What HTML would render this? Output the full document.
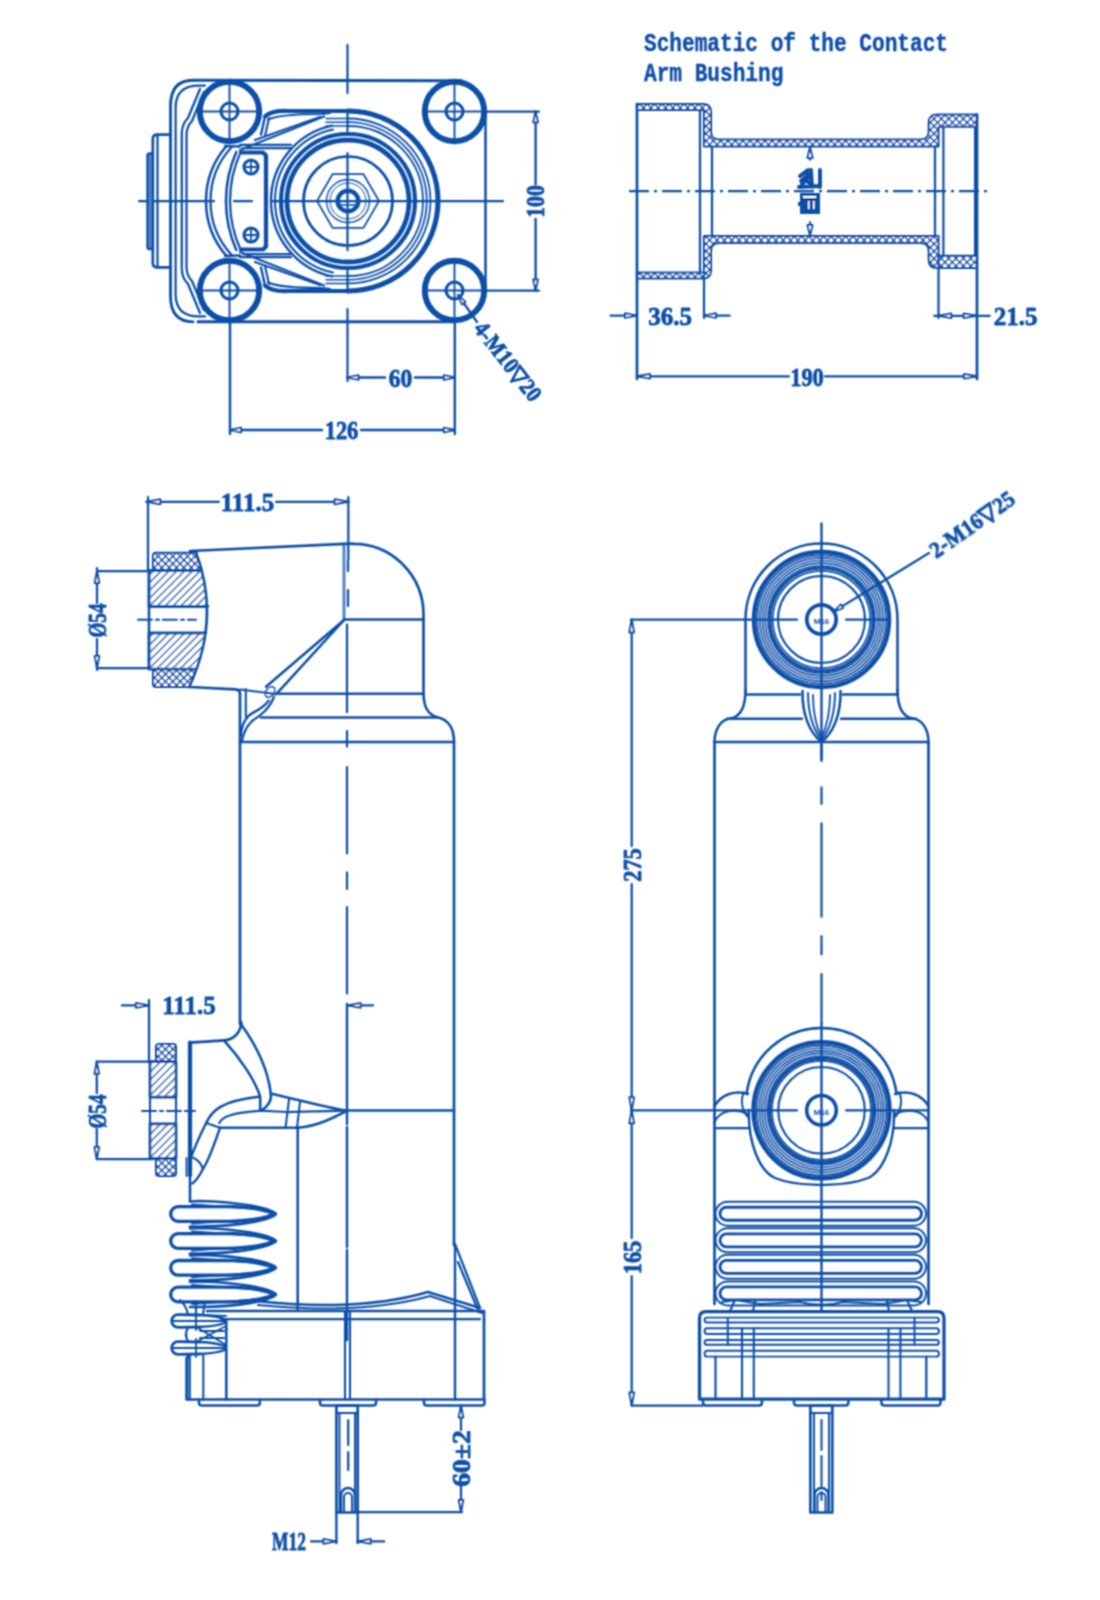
<!DOCTYPE html>
<html><head><meta charset="utf-8"><style>
html,body{margin:0;padding:0;background:#fff;}
svg{display:block;}
</style></head><body>
<svg width="1100" height="1600" viewBox="0 0 1100 1600">
<defs>
<pattern id="dots" width="5.2" height="5.2" patternUnits="userSpaceOnUse" patternTransform="rotate(45)"><rect width="5.2" height="5.2" fill="#fff"/><path d="M0 0 H5.2 M0 0 V5.2" stroke="#0f50a8" stroke-width="3.1"/></pattern>
<pattern id="hatch" width="5.5" height="5.5" patternUnits="userSpaceOnUse" patternTransform="rotate(45)"><rect width="5.5" height="5.5" fill="#fff"/><line x1="0" y1="0" x2="0" y2="5.5" stroke="#0f50a8" stroke-width="2.7"/></pattern>
<filter id="soft" x="-5%" y="-5%" width="110%" height="110%"><feConvolveMatrix order="3" kernelMatrix="1 2 1 2 4 2 1 2 1" divisor="16" edgeMode="none"/></filter>
</defs>
<g filter="url(#soft)" fill="none" stroke="#0f50a8" stroke-linecap="round" stroke-linejoin="round">
<line x1="347.5" y1="45" x2="347.5" y2="93" stroke-width="2.25" />
<line x1="347.5" y1="110" x2="347.5" y2="131" stroke-width="2.25" />
<line x1="347.5" y1="153" x2="347.5" y2="250" stroke-width="2.25" />
<line x1="347.5" y1="271" x2="347.5" y2="292" stroke-width="2.25" />
<line x1="347.5" y1="309" x2="347.5" y2="381" stroke-width="2.25" />
<line x1="139" y1="201" x2="214" y2="201" stroke-width="2.25" />
<line x1="234" y1="201" x2="252" y2="201" stroke-width="2.25" />
<line x1="273" y1="201" x2="503" y2="201" stroke-width="2.25" />
<circle cx="229.5" cy="111.5" r="29.7" stroke-width="6.0" />
<circle cx="229.5" cy="111.5" r="8.5" stroke-width="3.15" />
<line x1="202.5" y1="111.5" x2="221.0" y2="111.5" stroke-width="1.95" />
<line x1="238.0" y1="111.5" x2="256.5" y2="111.5" stroke-width="1.95" />
<line x1="229.5" y1="84.5" x2="229.5" y2="103.0" stroke-width="1.95" />
<line x1="229.5" y1="120.0" x2="229.5" y2="138.5" stroke-width="1.95" />
<line x1="221.0" y1="111.5" x2="238.0" y2="111.5" stroke-width="1.8" />
<line x1="229.5" y1="103.0" x2="229.5" y2="120.0" stroke-width="1.8" />
<circle cx="229.5" cy="290.5" r="29.7" stroke-width="6.0" />
<circle cx="229.5" cy="290.5" r="8.5" stroke-width="3.15" />
<line x1="202.5" y1="290.5" x2="221.0" y2="290.5" stroke-width="1.95" />
<line x1="238.0" y1="290.5" x2="256.5" y2="290.5" stroke-width="1.95" />
<line x1="229.5" y1="263.5" x2="229.5" y2="282.0" stroke-width="1.95" />
<line x1="229.5" y1="299.0" x2="229.5" y2="317.5" stroke-width="1.95" />
<line x1="221.0" y1="290.5" x2="238.0" y2="290.5" stroke-width="1.8" />
<line x1="229.5" y1="282.0" x2="229.5" y2="299.0" stroke-width="1.8" />
<circle cx="454.5" cy="111.5" r="29.7" stroke-width="6.0" />
<circle cx="454.5" cy="111.5" r="8.5" stroke-width="3.15" />
<line x1="427.5" y1="111.5" x2="446.0" y2="111.5" stroke-width="1.95" />
<line x1="463.0" y1="111.5" x2="481.5" y2="111.5" stroke-width="1.95" />
<line x1="454.5" y1="84.5" x2="454.5" y2="103.0" stroke-width="1.95" />
<line x1="454.5" y1="120.0" x2="454.5" y2="138.5" stroke-width="1.95" />
<line x1="446.0" y1="111.5" x2="463.0" y2="111.5" stroke-width="1.8" />
<line x1="454.5" y1="103.0" x2="454.5" y2="120.0" stroke-width="1.8" />
<circle cx="454.5" cy="290.5" r="29.7" stroke-width="6.0" />
<circle cx="454.5" cy="290.5" r="8.5" stroke-width="3.15" />
<line x1="427.5" y1="290.5" x2="446.0" y2="290.5" stroke-width="1.95" />
<line x1="463.0" y1="290.5" x2="481.5" y2="290.5" stroke-width="1.95" />
<line x1="454.5" y1="263.5" x2="454.5" y2="282.0" stroke-width="1.95" />
<line x1="454.5" y1="299.0" x2="454.5" y2="317.5" stroke-width="1.95" />
<line x1="446.0" y1="290.5" x2="463.0" y2="290.5" stroke-width="1.8" />
<line x1="454.5" y1="282.0" x2="454.5" y2="299.0" stroke-width="1.8" />
<line x1="193" y1="80.2" x2="461" y2="80.8" stroke-width="3.0" />
<line x1="198" y1="321.8" x2="455" y2="321.8" stroke-width="3.0" />
<line x1="485.5" y1="111.5" x2="485.5" y2="290.5" stroke-width="2.55" />
<path d="M170.5 201 L170.5 106 Q170.5 80.2 193 80.2" stroke-width="2.85" />
<path d="M175.6 201 L175.6 108 Q175.6 85.6 198.5 85.6 L205 85.6" stroke-width="2.25" />
<path d="M181.8 201 L181.8 133 Q182 124 188 118 L200 89" stroke-width="2.25" />
<path d="M186.5 201 L186.5 134 Q187 126 192 121 L204 92" stroke-width="2.25" />
<path d="M170.2 134.7 L157 134.7 Q152.8 134.7 152.8 139 L152.8 201" stroke-width="2.7" />
<line x1="157.5" y1="134.7" x2="157.5" y2="201" stroke-width="2.25" />
<path d="M206 201 A84 84 0 0 1 226.5 146" stroke-width="2.55" />
<path d="M210.5 201 A79.5 79.5 0 0 1 231.7 147" stroke-width="2.25" />
<path d="M225 146 L240 146.5" stroke-width="2.4" />
<path d="M226 201 A122 122 0 0 1 236.3 152" stroke-width="2.55" />
<path d="M230 201 A118 118 0 0 1 240.7 152" stroke-width="2.25" />
<line x1="240" y1="144.8" x2="291" y2="144.8" stroke-width="2.25" />
<line x1="243" y1="148" x2="291" y2="148" stroke-width="2.25" />
<path d="M241 152.5 L263 152.5 L266 155.5 L266 201" stroke-width="4.2" />
<circle cx="251" cy="167" r="7" stroke-width="3.15" />
<line x1="246" y1="167" x2="256" y2="167" stroke-width="1.8" />
<line x1="251" y1="162" x2="251" y2="172" stroke-width="1.8" />
<path d="M265 116.4 Q272 110.5 287 111 L348 111" stroke-width="4.2" />
<path d="M268 119.5 Q280 114 322 114 L330 113" stroke-width="2.1" />
<path d="M265 116.4 L261 134.5" stroke-width="2.4" />
<path d="M269 118 L265 136" stroke-width="2.1" />
<line x1="240" y1="150" x2="324" y2="116.5" stroke-width="2.25" />
<line x1="255" y1="140" x2="320" y2="117" stroke-width="2.25" />
<line x1="326" y1="118.5" x2="348" y2="118.5" stroke-width="1.5" />
<line x1="326" y1="122.2" x2="348" y2="122.2" stroke-width="1.5" />
<line x1="326" y1="126" x2="348" y2="126" stroke-width="1.5" />
<path d="M271 201 A77 77 0 0 1 332 125.6" stroke-width="2.4" />
<path d="M275 201 A73 73 0 0 1 333 129.5" stroke-width="2.1" />
<path d="M170.5 201 L170.5 296 Q170.5 321.8 193 321.8" stroke-width="2.85" />
<path d="M175.6 201 L175.6 294 Q175.6 316.4 198.5 316.4 L205 316.4" stroke-width="2.25" />
<path d="M181.8 201 L181.8 269 Q182 278 188 284 L200 313" stroke-width="2.25" />
<path d="M186.5 201 L186.5 268 Q187 276 192 281 L204 310" stroke-width="2.25" />
<path d="M170.2 267.3 L157 267.3 Q152.8 267.3 152.8 263 L152.8 201" stroke-width="2.7" />
<line x1="157.5" y1="267.3" x2="157.5" y2="201" stroke-width="2.25" />
<path d="M206 201 A84 84 0 0 0 226.5 256" stroke-width="2.55" />
<path d="M210.5 201 A79.5 79.5 0 0 0 231.7 255" stroke-width="2.25" />
<path d="M225 256 L240 255.5" stroke-width="2.4" />
<path d="M226 201 A122 122 0 0 0 236.3 250" stroke-width="2.55" />
<path d="M230 201 A118 118 0 0 0 240.7 250" stroke-width="2.25" />
<line x1="240" y1="257.2" x2="291" y2="257.2" stroke-width="2.25" />
<line x1="243" y1="254" x2="291" y2="254" stroke-width="2.25" />
<path d="M241 249.5 L263 249.5 L266 246.5 L266 201" stroke-width="4.2" />
<circle cx="251" cy="235" r="7" stroke-width="3.15" />
<line x1="246" y1="235" x2="256" y2="235" stroke-width="1.8" />
<line x1="251" y1="240" x2="251" y2="230" stroke-width="1.8" />
<path d="M265 285.6 Q272 291.5 287 291 L348 291" stroke-width="4.2" />
<path d="M268 282.5 Q280 288 322 288 L330 289" stroke-width="2.1" />
<path d="M265 285.6 L261 267.5" stroke-width="2.4" />
<path d="M269 284 L265 266" stroke-width="2.1" />
<line x1="240" y1="252" x2="324" y2="285.5" stroke-width="2.25" />
<line x1="255" y1="262" x2="320" y2="285" stroke-width="2.25" />
<line x1="326" y1="283.5" x2="348" y2="283.5" stroke-width="1.5" />
<line x1="326" y1="279.8" x2="348" y2="279.8" stroke-width="1.5" />
<line x1="326" y1="276" x2="348" y2="276" stroke-width="1.5" />
<path d="M271 201 A77 77 0 0 0 332 276.4" stroke-width="2.4" />
<path d="M275 201 A73 73 0 0 0 333 272.5" stroke-width="2.1" />
<rect x="147.5" y="153.5" width="5.3" height="95.5" stroke-width="2.4" fill="#4f82c4" rx="2"/>
<path d="M348 111 A90 90 0 0 1 348 291" stroke-width="5.1" />
<path d="M348 126 A75 75 0 0 1 348 276" stroke-width="1.8" />
<path d="M348 122.2 A78.8 78.8 0 0 1 348 279.8" stroke-width="1.8" />
<path d="M348 118.5 A82.5 82.5 0 0 1 348 283.5" stroke-width="1.8" />
<circle cx="348" cy="201" r="67" stroke-width="4.2" />
<circle cx="348" cy="201" r="61" stroke-width="4.8" />
<circle cx="348" cy="201" r="44.5" stroke-width="2.7" />
<polygon points="379.0,201.0 363.5,227.8 332.5,227.8 317.0,201.0 332.5,174.2 363.5,174.2" stroke-width="1.7"/>
<circle cx="348" cy="201" r="21.5" stroke-width="1.35" />
<circle cx="348" cy="201" r="18" stroke-width="0.98" />
<circle cx="348" cy="201" r="10.3" stroke-width="4.5" />
<line x1="340" y1="205" x2="356" y2="205" stroke-width="1.65" />
<line x1="486" y1="111.5" x2="539" y2="111.5" stroke-width="2.25" />
<line x1="486" y1="290.5" x2="539" y2="290.5" stroke-width="2.25" />
<line x1="535.6" y1="111.5" x2="535.6" y2="184" stroke-width="2.4" />
<line x1="535.6" y1="219" x2="535.6" y2="290.5" stroke-width="2.4" />
<path d="M535.6 111.5 L538.0 122.5 L533.2 122.5 Z" stroke-width="1.95" fill="#fff"/>
<path d="M535.6 290.5 L533.2 279.5 L538.0 279.5 Z" stroke-width="1.95" fill="#fff"/>
<text transform="translate(543.5 201.5) rotate(-90) scale(0.87 1)" font-family="Liberation Serif" font-weight="bold" font-size="25" text-anchor="middle" fill="#0f50a8" stroke="#0f50a8" stroke-width="0.8" >100</text>
<line x1="230" y1="322" x2="230" y2="434" stroke-width="2.4" />
<line x1="454.8" y1="322" x2="454.8" y2="434" stroke-width="2.4" />
<line x1="347.5" y1="377.5" x2="385" y2="377.5" stroke-width="2.4" />
<line x1="415" y1="377.5" x2="454.8" y2="377.5" stroke-width="2.4" />
<path d="M347.5 377.5 L358.5 375.1 L358.5 379.9 Z" stroke-width="1.95" fill="#fff"/>
<path d="M454.8 377.5 L443.8 379.9 L443.8 375.1 Z" stroke-width="1.95" fill="#fff"/>
<text transform="translate(400.5 386.5) scale(0.94 1)" font-family="Liberation Serif" font-weight="bold" font-size="25" text-anchor="middle" fill="#0f50a8" stroke="#0f50a8" stroke-width="0.8" >60</text>
<line x1="230" y1="430" x2="322" y2="430" stroke-width="2.4" />
<line x1="361" y1="430" x2="454.8" y2="430" stroke-width="2.4" />
<path d="M230.0 430.0 L241.0 427.6 L241.0 432.4 Z" stroke-width="1.95" fill="#fff"/>
<path d="M454.8 430.0 L443.8 432.4 L443.8 427.6 Z" stroke-width="1.95" fill="#fff"/>
<text transform="translate(341.5 439) scale(0.9 1)" font-family="Liberation Serif" font-weight="bold" font-size="25" text-anchor="middle" fill="#0f50a8" stroke="#0f50a8" stroke-width="0.8" >126</text>
<line x1="458" y1="295" x2="477" y2="322" stroke-width="2.25" />
<path d="M458.0 295.0 L465.5 301.9 L461.9 304.5 Z" stroke-width="1.95" fill="#fff"/>
<text transform="translate(473 329) rotate(52) scale(0.9 1)" font-family="Liberation Serif" font-weight="bold" font-size="23" text-anchor="start" fill="#0f50a8" stroke="#0f50a8" stroke-width="0.8" >4-M10&#9661;20</text>
<text transform="translate(644 50.5) scale(0.845 1)" font-family="Liberation Mono" font-weight="bold" font-size="25" text-anchor="start" fill="#0f50a8" stroke="#0f50a8" stroke-width="0.4" >Schematic of the Contact</text>
<text transform="translate(644 80.5) scale(0.845 1)" font-family="Liberation Mono" font-weight="bold" font-size="25" text-anchor="start" fill="#0f50a8" stroke="#0f50a8" stroke-width="0.4" >Arm Bushing</text>
<path d="M637 104 L703 104 Q711 104 711 112 L711 131.5 Q711 139.5 719 139.5 L920.7 139.5 Q928.7 139.5 928.7 131.5 L928.7 123 Q928.7 114.5 937 114.5 L977 114.5 L977 126.8 L938.5 126.8 L938.5 146.5 L704 146.5 L704 110 L637 110 Z" stroke-width="2.1" fill="url(#dots)"/>
<path d="M637 278.5 L703 278.5 Q711 278.5 711 270.5 L711 251.0 Q711 243.0 719 243.0 L920.7 243.0 Q928.7 243.0 928.7 251.0 L928.7 259.5 Q928.7 268.0 937 268.0 L977 268.0 L977 255.7 L938.5 255.7 L938.5 236.0 L704 236.0 L704 272.5 L637 272.5 Z" stroke-width="2.1" fill="url(#dots)"/>
<line x1="637" y1="104" x2="637" y2="379" stroke-width="2.7" />
<line x1="700" y1="110" x2="700" y2="272.5" stroke-width="2.25" />
<line x1="712" y1="146.5" x2="712" y2="236" stroke-width="2.25" />
<line x1="935" y1="146.5" x2="935" y2="236" stroke-width="2.25" />
<line x1="943.4" y1="126.8" x2="943.4" y2="255.7" stroke-width="2.25" />
<line x1="975" y1="126.8" x2="975" y2="255.7" stroke-width="2.1" />
<line x1="977" y1="114.5" x2="977" y2="379" stroke-width="2.7" />
<line x1="704" y1="272.5" x2="704" y2="318" stroke-width="2.25" />
<line x1="938.5" y1="255.7" x2="938.5" y2="318" stroke-width="2.25" />
<line x1="629" y1="191.2" x2="991" y2="191.2" stroke-width="2.25" stroke-dasharray="20 5 3 5" stroke-linecap="butt"/>
<line x1="810" y1="146.5" x2="810" y2="160" stroke-width="1.8" />
<line x1="810" y1="222" x2="810" y2="236" stroke-width="1.8" />
<path d="M810.0 147.0 L812.6 158.0 L807.4 158.0 Z" stroke-width="1.95" fill="#fff"/>
<path d="M810.0 236.0 L807.4 225.0 L812.6 225.0 Z" stroke-width="1.95" fill="#fff"/>
<g fill="#0f50a8" stroke="none"><rect x="800" y="193" width="20" height="21"/><rect x="798" y="202" width="3" height="4"/></g><g fill="#fff" stroke="none"><rect x="803" y="196" width="13" height="2"/><rect x="808" y="201" width="1.6" height="8"/><rect x="813" y="201" width="1.6" height="8"/></g>
<path d="M799 187 L820 186 M820 170 L820 187 M811 170 L812 187 M800 176 L808 170 M802 184 L808 178 M801 181 L809 174 M808 182 L812 184" stroke-width="3.9" />
<line x1="610.5" y1="315.6" x2="637" y2="315.6" stroke-width="2.25" />
<path d="M637.0 315.6 L625.0 317.9 L625.0 313.3 Z" stroke-width="1.95" fill="#fff"/>
<line x1="704" y1="315.6" x2="729.7" y2="315.6" stroke-width="2.25" />
<path d="M704.0 315.6 L716.0 313.3 L716.0 317.9 Z" stroke-width="1.95" fill="#fff"/>
<text transform="translate(670 324.5) scale(1.0 1)" font-family="Liberation Serif" font-weight="bold" font-size="25" text-anchor="middle" fill="#0f50a8" stroke="#0f50a8" stroke-width="0.8" >36.5</text>
<line x1="934.2" y1="315.8" x2="989.7" y2="315.8" stroke-width="2.25" />
<path d="M938.3 315.8 L951.3 313.5 L951.3 318.1 Z" stroke-width="1.95" fill="#fff"/>
<path d="M976.7 315.8 L963.7 318.1 L963.7 313.5 Z" stroke-width="1.95" fill="#fff"/>
<text transform="translate(1015.5 324.8) scale(1.0 1)" font-family="Liberation Serif" font-weight="bold" font-size="25" text-anchor="middle" fill="#0f50a8" stroke="#0f50a8" stroke-width="0.8" >21.5</text>
<line x1="637" y1="376.3" x2="789" y2="376.3" stroke-width="2.25" />
<line x1="825" y1="376.3" x2="977" y2="376.3" stroke-width="2.25" />
<path d="M637.0 376.3 L650.0 374.0 L650.0 378.6 Z" stroke-width="1.95" fill="#fff"/>
<path d="M977.0 376.3 L964.0 378.6 L964.0 374.0 Z" stroke-width="1.95" fill="#fff"/>
<text transform="translate(807 385.5) scale(0.9 1)" font-family="Liberation Serif" font-weight="bold" font-size="25" text-anchor="middle" fill="#0f50a8" stroke="#0f50a8" stroke-width="0.8" >190</text>
<line x1="146.4" y1="501.8" x2="219" y2="501.8" stroke-width="2.25" />
<line x1="276" y1="501.8" x2="348.6" y2="501.8" stroke-width="2.25" />
<path d="M146.4 501.8 L160.4 499.3 L160.4 504.3 Z" stroke-width="1.95" fill="#fff"/>
<path d="M348.6 501.8 L334.6 504.3 L334.6 499.3 Z" stroke-width="1.95" fill="#fff"/>
<text transform="translate(247.5 510.5) scale(1.0 1)" font-family="Liberation Serif" font-weight="bold" font-size="25" text-anchor="middle" fill="#0f50a8" stroke="#0f50a8" stroke-width="0.8" >111.5</text>
<line x1="148" y1="497" x2="148" y2="571" stroke-width="2.25" />
<line x1="348.3" y1="497" x2="348.3" y2="559.6" stroke-width="2.25" />
<line x1="348" y1="561" x2="348" y2="571" stroke-width="2.25" />
<line x1="348" y1="590" x2="348" y2="606" stroke-width="2.25" />
<line x1="347" y1="624.5" x2="347" y2="712" stroke-width="2.25" />
<line x1="347" y1="731" x2="347" y2="746.5" stroke-width="2.25" />
<line x1="347" y1="767" x2="347" y2="853.4" stroke-width="2.25" />
<line x1="347" y1="872.5" x2="347" y2="889" stroke-width="2.25" />
<line x1="347" y1="907" x2="347" y2="993.4" stroke-width="2.25" />
<path d="M190 551 L344.6 543.8 Q352 543.6 354 543.8 A70 71 0 0 1 423.5 614.7 L423.5 693 C423.5 709 429 716 440 718 C450 721 454 731 454 742 L454 1245" stroke-width="2.7" />
<line x1="344" y1="543.8" x2="344" y2="619.3" stroke-width="3.0" stroke-opacity="0.7"/>
<line x1="344" y1="619.5" x2="423.5" y2="619.5" stroke-width="2.55" />
<path d="M344 620 L266 686.7" stroke-width="2.55" />
<path d="M344 620 L276 694.4" stroke-width="2.55" />
<ellipse cx="270" cy="692" rx="4" ry="6" transform="rotate(40 270 692)" stroke-width="1.4"/>
<path d="M268.7 700.7 C262 710 252 712 248.4 716 C243 722 241 730 240.7 736" stroke-width="2.4" />
<path d="M274 697 C268 712 257 717 252 721 C246 727 243 735 242 741" stroke-width="2.25" />
<line x1="279" y1="693.8" x2="423.5" y2="693.8" stroke-width="2.55" />
<line x1="261" y1="717.5" x2="438" y2="717.5" stroke-width="2.55" />
<line x1="240" y1="742" x2="454" y2="742" stroke-width="2.7" />
<path d="M190 687 L235.6 689.3 Q240 689.5 240 694 L240 1024" stroke-width="2.7" />
<line x1="245.8" y1="689" x2="245.8" y2="717" stroke-width="2.1" />
<line x1="240" y1="689.5" x2="276" y2="694" stroke-width="2.1" />
<clipPath id="fclip"><path d="M140 548 L196 548 Q221 619 189 690 L140 690 Z"/></clipPath>
<g clip-path="url(#fclip)">
<rect x="153" y="552.7" width="60" height="18" stroke-width="2.1" fill="url(#dots)" rx="3"/>
<rect x="153" y="669" width="60" height="18" stroke-width="2.1" fill="url(#dots)" rx="3"/>
<rect x="149" y="570.7" width="70" height="35.6" stroke-width="2.7" fill="url(#hatch)"/>
<rect x="149" y="633" width="70" height="36" stroke-width="2.7" fill="url(#hatch)"/>
</g>
<path d="M196 552.7 Q221 619 189 687" stroke-width="2.7" />
<line x1="149" y1="606.3" x2="208" y2="606.3" stroke-width="2.4" />
<line x1="149" y1="633" x2="206" y2="633" stroke-width="2.4" />
<line x1="149" y1="570.7" x2="149" y2="669" stroke-width="2.55" />
<line x1="149" y1="570.7" x2="198" y2="570.7" stroke-width="2.25" />
<line x1="149" y1="669" x2="194" y2="669" stroke-width="2.25" />
<line x1="138" y1="619.8" x2="196" y2="619.8" stroke-width="2.1" stroke-dasharray="14 4 3 4"/>
<line x1="97" y1="568" x2="97" y2="603" stroke-width="2.25" />
<line x1="97" y1="639" x2="97" y2="670" stroke-width="2.25" />
<line x1="97" y1="571" x2="149" y2="571" stroke-width="2.25" />
<line x1="97" y1="668" x2="149" y2="668" stroke-width="2.25" />
<path d="M97.0 571.0 L99.3 583.0 L94.7 583.0 Z" stroke-width="1.95" fill="#fff"/>
<path d="M97.0 668.0 L94.7 656.0 L99.3 656.0 Z" stroke-width="1.95" fill="#fff"/>
<text transform="translate(105.5 620.5) rotate(-90) scale(0.77 1)" font-family="Liberation Serif" font-weight="bold" font-size="25" text-anchor="middle" fill="#0f50a8" stroke="#0f50a8" stroke-width="0.8" >&#216;54</text>
<line x1="122" y1="1005.4" x2="149" y2="1005.4" stroke-width="2.25" />
<path d="M149.0 1005.4 L136.0 1007.8 L136.0 1003.0 Z" stroke-width="1.95" fill="#fff"/>
<text transform="translate(189 1014) scale(1.0 1)" font-family="Liberation Serif" font-weight="bold" font-size="25" text-anchor="middle" fill="#0f50a8" stroke="#0f50a8" stroke-width="0.8" >111.5</text>
<line x1="347.6" y1="1005.4" x2="373" y2="1005.4" stroke-width="2.25" />
<path d="M347.6 1005.4 L360.6 1003.0 L360.6 1007.8 Z" stroke-width="1.95" fill="#fff"/>
<line x1="149" y1="1000" x2="149" y2="1062" stroke-width="2.25" />
<line x1="347" y1="1004" x2="347" y2="1340" stroke-width="2.4" stroke-dasharray="120 3"/>
<path d="M241.4 1022 C241 1032 234 1040 224 1040.3 L190 1042.7" stroke-width="2.7" />
<line x1="190" y1="1042.7" x2="190" y2="1175.3" stroke-width="4.2" />
<line x1="186.5" y1="1158" x2="186.5" y2="1176" stroke-width="1.8" />
<rect x="156" y="1044" width="20" height="17.7" stroke-width="2.1" fill="url(#dots)" rx="3"/>
<rect x="156" y="1158.3" width="20.0" height="17.7" stroke-width="2.1" fill="url(#dots)" rx="3"/>
<rect x="150" y="1061.7" width="26" height="35.45000000000009" stroke-width="2.7" fill="url(#hatch)"/>
<rect x="150" y="1123.85" width="26" height="34.450000000000045" stroke-width="2.7" fill="url(#hatch)"/>
<line x1="176" y1="1097.15" x2="176" y2="1123.85" stroke-width="2.1" />
<line x1="150" y1="1097.15" x2="150" y2="1123.85" stroke-width="2.1" />
<line x1="142" y1="1111" x2="195" y2="1111" stroke-width="2.1" stroke-dasharray="14 4 3 4"/>
<line x1="96.8" y1="1061.7" x2="96.8" y2="1093" stroke-width="2.25" />
<line x1="96.8" y1="1129" x2="96.8" y2="1159" stroke-width="2.25" />
<line x1="96.8" y1="1061.7" x2="153" y2="1061.7" stroke-width="2.25" />
<line x1="96.8" y1="1159" x2="153" y2="1159" stroke-width="2.25" />
<path d="M96.8 1061.7 L99.1 1073.7 L94.5 1073.7 Z" stroke-width="1.95" fill="#fff"/>
<path d="M96.8 1159.0 L94.5 1147.0 L99.1 1147.0 Z" stroke-width="1.95" fill="#fff"/>
<text transform="translate(105.5 1111.5) rotate(-90) scale(0.77 1)" font-family="Liberation Serif" font-weight="bold" font-size="25" text-anchor="middle" fill="#0f50a8" stroke="#0f50a8" stroke-width="0.8" >&#216;54</text>
<path d="M241.4 1024.7 C256 1045 268 1070 270.8 1093.5 C272 1100 268 1107 261 1110.7" stroke-width="2.55" />
<path d="M224 1040.3 C240 1058 255 1080 260.2 1096.7 L260.2 1110.7" stroke-width="2.55" />
<path d="M206.2 1123 C212 1110 222 1101 258.6 1096.7" stroke-width="2.55" />
<path d="M270.8 1093.5 L294.6 1099.2 C315 1104 330 1108 347 1110.7" stroke-width="2.55" />
<path d="M219.3 1123 C222 1117 230 1113 261 1110.7 L286.4 1112 C310 1112 330 1111 347 1110.7" stroke-width="2.25" />
<path d="M220 1127.8 L297.8 1127.8 C318 1126 333 1118 347 1110.7" stroke-width="2.55" />
<path d="M289 1099.5 L285.5 1127.8 M300 1102 L297 1127.8" stroke-width="2.1" />
<path d="M206.2 1123 L220 1127.8" stroke-width="2.1" />
<path d="M206.2 1123 C200 1135 195 1147 191.5 1155.7" stroke-width="2.4" />
<path d="M220 1127.8 C214 1145 209 1160 203 1168.8 C200 1175 196 1181 192.3 1183.5" stroke-width="2.4" />
<path d="M191.5 1157 C197 1159 201 1163 203 1168.8" stroke-width="2.1" />
<line x1="297.7" y1="1127" x2="297.7" y2="1309.5" stroke-width="2.55" />
<line x1="347" y1="1110.5" x2="454" y2="1110.5" stroke-width="2.55" />
<line x1="190" y1="1177" x2="190" y2="1201" stroke-width="2.55" />
<path d="M190 1201.5 L200 1201 C240 1202 270 1208 276 1214 C270 1220 240 1226 200 1226.5 L190 1226.5" stroke-width="2.7" />
<path d="M178 1206.7 L235 1206.7 C255 1208 268 1211 274 1214 C268 1217 255 1220 235 1221.3 L178 1221.3 A7.3 7.3 0 0 1 178 1206.7 Z" stroke-width="3.3" />
<line x1="192" y1="1204.5" x2="265" y2="1209.5" stroke-width="1.95" />
<line x1="192" y1="1223.5" x2="265" y2="1218.5" stroke-width="1.95" />
<path d="M190 1228.5 L200 1228 C240 1229 270 1235 276 1241 C270 1247 240 1253 200 1253.5 L190 1253.5" stroke-width="2.7" />
<path d="M178 1233.7 L235 1233.7 C255 1235 268 1238 274 1241 C268 1244 255 1247 235 1248.3 L178 1248.3 A7.3 7.3 0 0 1 178 1233.7 Z" stroke-width="3.3" />
<line x1="192" y1="1231.5" x2="265" y2="1236.5" stroke-width="1.95" />
<line x1="192" y1="1250.5" x2="265" y2="1245.5" stroke-width="1.95" />
<path d="M190 1255.3 L200 1254.8 C240 1255.8 270 1261.8 276 1267.8 C270 1273.8 240 1279.8 200 1280.3 L190 1280.3" stroke-width="2.7" />
<path d="M178 1260.5 L235 1260.5 C255 1261.8 268 1264.8 274 1267.8 C268 1270.8 255 1273.8 235 1275.1 L178 1275.1 A7.3 7.3 0 0 1 178 1260.5 Z" stroke-width="3.3" />
<line x1="192" y1="1258.3" x2="265" y2="1263.3" stroke-width="1.95" />
<line x1="192" y1="1277.3" x2="265" y2="1272.3" stroke-width="1.95" />
<path d="M190 1282.0 L200 1281.5 C240 1282.5 270 1288.5 276 1294.5 C270 1300.5 240 1306.5 200 1307.0 L190 1307.0" stroke-width="2.7" />
<path d="M178 1287.2 L235 1287.2 C255 1288.5 268 1291.5 274 1294.5 C268 1297.5 255 1300.5 235 1301.8 L178 1301.8 A7.3 7.3 0 0 1 178 1287.2 Z" stroke-width="3.3" />
<line x1="192" y1="1285.0" x2="265" y2="1290.0" stroke-width="1.95" />
<line x1="192" y1="1304.0" x2="265" y2="1299.0" stroke-width="1.95" />
<path d="M200 1315 L178 1314.7 A6.3 6.3 0 0 0 178 1327.3 L200 1327" stroke-width="2.85" />
<path d="M200 1315 C210 1315.5 220 1317 226 1319.5 M200 1327 C210 1326.5 220 1325 226 1322.5" stroke-width="2.4" />
<line x1="172" y1="1321" x2="226" y2="1321" stroke-width="1.95" />
<line x1="196" y1="1312" x2="196" y2="1330" stroke-width="1.8" />
<path d="M200 1342 L178 1341.7 A6.3 6.3 0 0 0 178 1354.3 L200 1354" stroke-width="2.85" />
<path d="M200 1342 C210 1342.5 220 1344 226 1346.5 M200 1354 C210 1353.5 220 1352 226 1349.5" stroke-width="2.4" />
<line x1="172" y1="1348" x2="226" y2="1348" stroke-width="1.95" />
<line x1="196" y1="1339" x2="196" y2="1357" stroke-width="1.8" />
<path d="M188 1327.5 Q184 1334.5 188 1341.5 M188 1354.5 L188 1358" stroke-width="2.25" />
<path d="M198 1328 L226 1345 M198 1341 L226 1326 M200 1331 L224 1331 M200 1338 L224 1338" stroke-width="1.95" />
<path d="M180 1300 Q186 1305 188 1314.5 M196 1301 L196 1314 M205 1302 L203 1314 M188 1314.5 L226 1316" stroke-width="2.1" />
<path d="M207 1311 L484 1311 L484 1399.5 L186.6 1399.5 L186.6 1358" stroke-width="2.7" />
<line x1="221" y1="1319" x2="480" y2="1319" stroke-width="2.25" />
<line x1="203.3" y1="1354" x2="203.3" y2="1399.5" stroke-width="2.1" />
<line x1="187.6" y1="1354" x2="187.6" y2="1399.5" stroke-width="2.1" />
<line x1="190" y1="1356" x2="190" y2="1399.5" stroke-width="1.8" />
<line x1="226.3" y1="1320" x2="226.3" y2="1399.5" stroke-width="2.55" />
<line x1="226.4" y1="1328" x2="226.4" y2="1330" stroke-width="2.1" />
<path d="M256 1301 C320 1308 380 1306 428 1292 L480 1308" stroke-width="2.55" />
<path d="M258 1305 C320 1311 380 1310 430 1296 L482 1313" stroke-width="2.1" />
<line x1="455" y1="1245" x2="455" y2="1399.5" stroke-width="2.4" />
<path d="M455 1244 L480 1308 M458 1262 L478 1310" stroke-width="2.25" />
<path d="M199 1399.5 L199 1403 Q199 1405.5 202 1405.5 L256.8 1405.5 Q259.8 1405.5 259.8 1403 L259.8 1399.5" stroke-width="2.55" />
<path d="M320 1399.5 L320 1403 Q320 1405.5 323 1405.5 L373 1405.5 Q376 1405.5 376 1403 L376 1399.5" stroke-width="2.55" />
<path d="M424 1399.5 L424 1403 Q424 1405.5 427 1405.5 L481.5 1405.5 Q484.5 1405.5 484.5 1403 L484.5 1399.5" stroke-width="2.55" />
<line x1="345" y1="1311" x2="345" y2="1399.5" stroke-width="2.1" />
<line x1="350" y1="1311" x2="350" y2="1399.5" stroke-width="2.1" />
<rect x="336.4" y="1405.5" width="21.3" height="107" stroke-width="2.7" />
<line x1="339.5" y1="1413" x2="339.5" y2="1512" stroke-width="1.95" />
<line x1="355" y1="1413" x2="355" y2="1512" stroke-width="1.95" />
<line x1="336.4" y1="1413" x2="357.7" y2="1413" stroke-width="2.1" />
<line x1="348.2" y1="1420" x2="348.2" y2="1445" stroke-width="2.25" />
<line x1="348.2" y1="1452" x2="348.2" y2="1470" stroke-width="2.25" />
<path d="M341 1512 L341 1495 A7 7 0 0 1 355 1495 L355 1512" stroke-width="2.55" />
<path d="M344 1512 L344 1497 A4 4 0 0 1 352 1497 L352 1512" stroke-width="1.95" />
<line x1="336.4" y1="1512" x2="336.4" y2="1543" stroke-width="2.4" />
<line x1="357.7" y1="1512" x2="357.7" y2="1543" stroke-width="2.4" />
<line x1="311" y1="1541.4" x2="336.4" y2="1541.4" stroke-width="2.25" />
<path d="M336.4 1541.4 L323.4 1543.8 L323.4 1539.0 Z" stroke-width="1.95" fill="#fff"/>
<line x1="357.7" y1="1541.4" x2="384.2" y2="1541.4" stroke-width="2.25" />
<path d="M357.7 1541.4 L370.7 1539.0 L370.7 1543.8 Z" stroke-width="1.95" fill="#fff"/>
<text transform="translate(289 1550) scale(0.7 1)" font-family="Liberation Serif" font-weight="bold" font-size="25" text-anchor="middle" fill="#0f50a8" stroke="#0f50a8" stroke-width="0.8" >M12</text>
<line x1="357.7" y1="1512" x2="462" y2="1512" stroke-width="2.25" />
<line x1="461" y1="1405.5" x2="461" y2="1430" stroke-width="2.25" />
<line x1="461" y1="1484" x2="461" y2="1512" stroke-width="2.25" />
<path d="M461.0 1405.5 L463.3 1417.5 L458.7 1417.5 Z" stroke-width="1.95" fill="#fff"/>
<path d="M461.0 1512.0 L458.7 1500.0 L463.3 1500.0 Z" stroke-width="1.95" fill="#fff"/>
<text transform="translate(469.5 1458.5) rotate(-90) scale(1.1 1)" font-family="Liberation Serif" font-weight="bold" font-size="25" text-anchor="middle" fill="#0f50a8" stroke="#0f50a8" stroke-width="0.8" >60&#177;2</text>
<path d="M745.5 694.5 L745.5 619.5 A76 76 0 0 1 897.5 619.5 L897.5 694.5" stroke-width="2.55" />
<circle cx="821.5" cy="619.5" r="67.5" stroke-width="4.5" />
<circle cx="821.5" cy="619.5" r="64.2" stroke-width="1.65" />
<circle cx="821.5" cy="619.5" r="61.6" stroke-width="1.65" />
<circle cx="821.5" cy="619.5" r="59" stroke-width="1.65" />
<circle cx="821.5" cy="619.5" r="56.4" stroke-width="1.65" />
<circle cx="821.5" cy="619.5" r="53.8" stroke-width="1.65" />
<circle cx="821.5" cy="619.5" r="51.5" stroke-width="3.15" />
<circle cx="821.5" cy="619.5" r="48.7" stroke-width="1.65" />
<circle cx="821.5" cy="619.5" r="43.5" stroke-width="2.1" />
<circle cx="821.5" cy="619.5" r="14.7" stroke-width="3.75" />
<text x="821.5" y="623.5" font-family="Liberation Sans" font-size="8" font-weight="bold" text-anchor="middle" fill="#0f50a8" stroke="none">M16</text>
<line x1="821.5" y1="523.5" x2="821.5" y2="759" stroke-width="2.4" />
<line x1="748.5" y1="619.5" x2="797" y2="619.5" stroke-width="2.25" />
<line x1="846" y1="619.5" x2="888.6" y2="619.5" stroke-width="2.25" />
<line x1="631" y1="619.5" x2="748.5" y2="619.5" stroke-width="2.25" />
<line x1="833.6" y1="611.6" x2="929" y2="553" stroke-width="2.25" />
<path d="M833.6 611.6 L840.9 604.4 L843.2 608.2 Z" stroke-width="1.95" fill="#fff"/>
<text transform="translate(936 559) rotate(-35) scale(0.9 1)" font-family="Liberation Serif" font-weight="bold" font-size="24" text-anchor="start" fill="#0f50a8" stroke="#0f50a8" stroke-width="0.8" >2-M16&#9661;25</text>
<path d="M745.5 690 C745.5 708 740 717 730 718.6 C720 720 714.5 730 714.5 742" stroke-width="2.55" />
<line x1="745.5" y1="694.5" x2="800" y2="694.5" stroke-width="2.4" />
<line x1="727" y1="718.7" x2="802" y2="718.7" stroke-width="2.4" />
<path d="M897.5 690 C897.5 708 903.0 717 913.0 718.6 C923.0 720 928.5 730 928.5 742" stroke-width="2.55" />
<line x1="897.5" y1="694.5" x2="843.0" y2="694.5" stroke-width="2.4" />
<line x1="916.0" y1="718.7" x2="841.0" y2="718.7" stroke-width="2.4" />
<line x1="714.5" y1="742" x2="928.5" y2="742" stroke-width="2.7" />
<path d="M802.5 691 C802 715 810 733 821.5 742 C833 733 841 715 840.5 691" stroke-width="2.55" />
<path d="M808 693 C808 714 814 730 821.5 740 C829 730 835 714 835 693" stroke-width="1.95" />
<path d="M813 695 C813 714 817 728 821.5 738 C826 728 830 714 830 695" stroke-width="1.8" />
<line x1="714.5" y1="742" x2="714.5" y2="1304" stroke-width="2.7" />
<line x1="928.5" y1="742" x2="928.5" y2="1304" stroke-width="2.7" />
<line x1="821.5" y1="787.4" x2="821.5" y2="803.8" stroke-width="2.25" />
<line x1="821.5" y1="823.4" x2="821.5" y2="916.7" stroke-width="2.25" />
<line x1="821.5" y1="936.3" x2="821.5" y2="954.3" stroke-width="2.25" />
<line x1="821.5" y1="974" x2="821.5" y2="1023" stroke-width="2.25" />
<line x1="821.5" y1="742" x2="821.5" y2="761" stroke-width="2.25" />
<path d="M746.6 1094 A75.6 75.6 0 0 1 896.6 1094" stroke-width="2.55" />
<path d="M748.9 1110 C748 1140 758 1170 775 1178 C795 1186 812 1184 821.5 1185 C831 1184 848 1186 868 1178 C885 1170 895 1140 894 1110" stroke-width="2.4" />
<path d="M748 1094 C735 1090 722 1094 714.5 1106" stroke-width="2.4" />
<path d="M714.5 1122 C720 1110 735 1108 748 1114" stroke-width="2.25" />
<line x1="714.5" y1="1128" x2="749" y2="1128" stroke-width="2.25" />
<path d="M744 1092 C740 1100 742 1112 749 1118" stroke-width="1.95" />
<path d="M895.0 1094 C908.0 1090 921.0 1094 928.5 1106" stroke-width="2.4" />
<path d="M928.5 1122 C923.0 1110 908.0 1108 895.0 1114" stroke-width="2.25" />
<line x1="928.5" y1="1128" x2="894.0" y2="1128" stroke-width="2.25" />
<path d="M899.0 1092 C903.0 1100 901.0 1112 894.0 1118" stroke-width="1.95" />
<circle cx="821.5" cy="1110.3" r="68" stroke-width="4.5" />
<circle cx="821.5" cy="1110.3" r="64.7" stroke-width="1.65" />
<circle cx="821.5" cy="1110.3" r="62.1" stroke-width="1.65" />
<circle cx="821.5" cy="1110.3" r="59.5" stroke-width="1.65" />
<circle cx="821.5" cy="1110.3" r="56.9" stroke-width="1.65" />
<circle cx="821.5" cy="1110.3" r="54.3" stroke-width="1.65" />
<circle cx="821.5" cy="1110.3" r="52" stroke-width="3.15" />
<circle cx="821.5" cy="1110.3" r="49.5" stroke-width="1.65" />
<circle cx="821.5" cy="1110.3" r="43.3" stroke-width="2.1" />
<circle cx="821.5" cy="1110.3" r="14.8" stroke-width="3.6" />
<text x="821.5" y="1115.3" font-family="Liberation Sans" font-size="8" font-weight="bold" text-anchor="middle" fill="#0f50a8" stroke="none">M16</text>
<line x1="821.5" y1="1023" x2="821.5" y2="1311" stroke-width="2.4" />
<line x1="631" y1="1110.3" x2="797" y2="1110.3" stroke-width="2.25" />
<line x1="846" y1="1110.3" x2="928.5" y2="1110.3" stroke-width="2.25" />
<line x1="631.7" y1="619.5" x2="631.7" y2="846" stroke-width="2.25" />
<line x1="631.7" y1="884" x2="631.7" y2="1110.3" stroke-width="2.25" />
<path d="M631.7 619.5 L634.1 632.5 L629.3 632.5 Z" stroke-width="1.95" fill="#fff"/>
<path d="M631.7 1110.3 L629.3 1097.3 L634.1 1097.3 Z" stroke-width="1.95" fill="#fff"/>
<text transform="translate(640.5 865) rotate(-90) scale(0.9 1)" font-family="Liberation Serif" font-weight="bold" font-size="25" text-anchor="middle" fill="#0f50a8" stroke="#0f50a8" stroke-width="0.8" >275</text>
<line x1="631.7" y1="1110.3" x2="631.7" y2="1238" stroke-width="2.25" />
<line x1="631.7" y1="1276" x2="631.7" y2="1405.5" stroke-width="2.25" />
<path d="M631.7 1110.3 L634.1 1123.3 L629.3 1123.3 Z" stroke-width="1.95" fill="#fff"/>
<path d="M631.7 1405.5 L629.3 1392.5 L634.1 1392.5 Z" stroke-width="1.95" fill="#fff"/>
<text transform="translate(640.5 1257.5) rotate(-90) scale(0.9 1)" font-family="Liberation Serif" font-weight="bold" font-size="25" text-anchor="middle" fill="#0f50a8" stroke="#0f50a8" stroke-width="0.8" >165</text>
<line x1="631.7" y1="1405.5" x2="703" y2="1405.5" stroke-width="2.25" />
<rect x="715.5" y="1201.7" width="210.5" height="24" stroke-width="1.95" rx="12"/>
<rect x="720" y="1207.2" width="201.5" height="13" stroke-width="2.85" rx="6.5"/>
<rect x="715.5" y="1228.3" width="210.5" height="24" stroke-width="1.95" rx="12"/>
<rect x="720" y="1233.8" width="201.5" height="13" stroke-width="2.85" rx="6.5"/>
<rect x="715.5" y="1254.8" width="210.5" height="24" stroke-width="1.95" rx="12"/>
<rect x="720" y="1260.3" width="201.5" height="13" stroke-width="2.85" rx="6.5"/>
<rect x="715.5" y="1281.4" width="210.5" height="24" stroke-width="1.95" rx="12"/>
<rect x="720" y="1286.9" width="201.5" height="13" stroke-width="2.85" rx="6.5"/>
<path d="M722 1302 L736 1300 L760 1304 L800 1302 Q821.5 1308 843 1302 L883 1304 L907 1300 L921 1302" stroke-width="2.25" />
<path d="M730 1311 L735 1300 M753 1311 L755 1301 M889 1311 L887 1301 M912 1311 L907 1300" stroke-width="2.1" />
<path d="M699.5 1399.2 L699.5 1318 Q699.5 1311.7 706 1311.7 L937.5 1311.7 Q944 1311.7 944 1318 L944 1399.2 Z" stroke-width="3.3" />
<path d="M707 1317.6 L936.5 1317.6 A2.4 2.400000000000091 0 0 1 936.5 1322.4 L707 1322.4 A2.4 2.400000000000091 0 0 1 707 1317.6 Z" stroke-width="1.95" />
<path d="M707 1328.3 L936.5 1328.3 A2.4 2.8500000000000227 0 0 1 936.5 1334 L707 1334 A2.4 2.8500000000000227 0 0 1 707 1328.3 Z" stroke-width="1.95" />
<path d="M707 1340 L936.5 1340 A2.4 2.3999999999999773 0 0 1 936.5 1344.8 L707 1344.8 A2.4 2.3999999999999773 0 0 1 707 1340 Z" stroke-width="1.95" />
<path d="M707 1350.7 L936.5 1350.7 A2.4 2.949999999999932 0 0 1 936.5 1356.6 L707 1356.6 A2.4 2.949999999999932 0 0 1 707 1350.7 Z" stroke-width="1.95" />
<line x1="715.5" y1="1356.6" x2="715.5" y2="1399.2" stroke-width="2.25" />
<line x1="926.3" y1="1356.6" x2="926.3" y2="1399.2" stroke-width="2.25" />
<line x1="742" y1="1328.3" x2="742" y2="1399.2" stroke-width="2.1" />
<line x1="753.8" y1="1328.3" x2="753.8" y2="1399.2" stroke-width="2.1" />
<line x1="888.5" y1="1328.3" x2="888.5" y2="1399.2" stroke-width="2.1" />
<line x1="900.4" y1="1328.3" x2="900.4" y2="1399.2" stroke-width="2.1" />
<line x1="727.8" y1="1317.6" x2="727.8" y2="1344.8" stroke-width="1.95" />
<line x1="914.5" y1="1317.6" x2="914.5" y2="1344.8" stroke-width="1.95" />
<path d="M703 1399.2 L703 1402.5 Q703 1405.5 706 1405.5 L759 1405.5 Q762 1405.5 762 1402.5 L762 1399.2" stroke-width="2.55" />
<path d="M794 1399.2 L794 1402.5 Q794 1405.5 797 1405.5 L845.4 1405.5 Q848.4 1405.5 848.4 1402.5 L848.4 1399.2" stroke-width="2.55" />
<path d="M881.4 1399.2 L881.4 1402.5 Q881.4 1405.5 884.4 1405.5 L937.5 1405.5 Q940.5 1405.5 940.5 1402.5 L940.5 1399.2" stroke-width="2.55" />
<rect x="810.4" y="1405.5" width="21.9" height="107" stroke-width="2.7" />
<line x1="814" y1="1413" x2="814" y2="1512" stroke-width="1.95" />
<line x1="829" y1="1413" x2="829" y2="1512" stroke-width="1.95" />
<line x1="810.4" y1="1413" x2="832.3" y2="1413" stroke-width="2.1" />
<line x1="821.5" y1="1420" x2="821.5" y2="1500" stroke-width="2.1" stroke-dasharray="30 6"/>
<path d="M814.5 1512 L814.5 1495 A7 7 0 0 1 828.5 1495 L828.5 1512" stroke-width="2.55" />
<path d="M817.5 1512 L817.5 1497 A4 4 0 0 1 825.5 1497 L825.5 1512" stroke-width="1.95" />
</g>
</svg>
</body></html>
